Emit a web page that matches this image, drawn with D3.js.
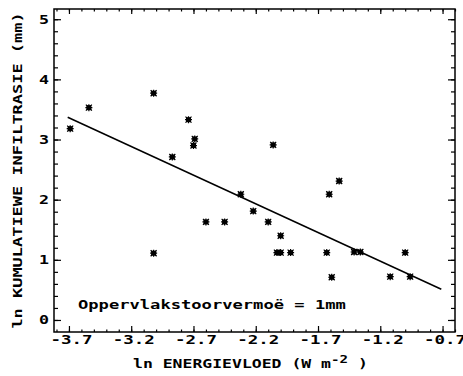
<!DOCTYPE html>
<html>
<head>
<meta charset="utf-8">
<script src="https://cdn.jsdelivr.net/npm/d3@7"></script>
<style>
  body { margin: 0; background: #fff; overflow: hidden; }
  svg { display: block; }
  text { font-family: 'DejaVu Sans Mono', monospace; font-weight: bold; fill: #000; }
</style>
</head>
<body>
<svg id="chart"></svg>
<script>
// measured points: ln energy flux vs ln cumulative infiltration
const energy = [-3.69, -3.54, -3.02, -2.74, -2.87, -2.70, -2.69, -2.06, -1.53,
  -3.02, -2.60, -2.45, -2.32, -1.61, -2.22, -2.10, -2.00, -2.03, -2.00, -1.92,
  -1.63, -1.59, -1.41, -1.36, -1.12, -1.00, -0.96];
const infiltration = [3.18, 3.53, 3.77, 3.33, 2.71, 2.90, 3.01, 2.91, 2.31,
  1.11, 1.63, 1.63, 2.09, 2.09, 1.81, 1.63, 1.40, 1.12, 1.12, 1.12,
  1.12, 0.71, 1.13, 1.13, 0.72, 1.12, 0.72];

// fitted line end points
const fitX = [-3.71, -0.71];
const fitY = [3.37, 0.51];

const xTicks = [-3.7, -3.2, -2.7, -2.2, -1.7, -1.2, -0.7];
const yTicks = [0, 1, 2, 3, 4, 5];

const yLabel = 'ln KUMULATIEWE INFILTRASIE (mm)';
const xLabel = 'ln ENERGIEVLOED (W m';
const note = 'Oppervlakstoorvermoë = 1mm';

const width = 463;
const height = 376;
const margin = { top: 9, right: 8, bottom: 44, left: 54 };
const innerWidth = width - margin.left - margin.right;
const innerHeight = height - margin.top - margin.bottom;
const charW = 10;

const svg = d3.select('#chart')
  .attr('width', width)
  .attr('height', height);

const g = svg.append('g')
  .attr('transform', `translate(${margin.left}, ${margin.top})`);

const xScale = d3.scaleLinear().domain([-3.82, -0.6]).range([0, innerWidth]);
const yScale = d3.scaleLinear().domain([-0.2, 5.17]).range([innerHeight, 0]);

const xMinor = d3.range(-38, -5).map(d => d / 10);
const yMinor = d3.range(0, 26).map(d => d / 5);

function tidy(sel) {
  sel.select('.domain').remove();
  sel.selectAll('line').attr('stroke', '#000').attr('stroke-width', 1.2);
  sel.selectAll('text').filter(function () { return !this.textContent; }).remove();
}

// stretch the mono font to the wide plotter lettering
function widen(sel, per) {
  sel.attr('font-size', 12.5)
    .attr('lengthAdjust', 'spacingAndGlyphs')
    .attr('textLength', function () { return this.textContent.length * (per || charW); });
}

// minor ticks on all four sides
g.append('g').attr('transform', `translate(0, ${innerHeight})`)
  .call(d3.axisBottom(xScale).tickValues(xMinor).tickSize(-2.5).tickFormat(''))
  .call(tidy);
g.append('g')
  .call(d3.axisTop(xScale).tickValues(xMinor).tickSize(-2.5).tickFormat(''))
  .call(tidy);
g.append('g')
  .call(d3.axisLeft(yScale).tickValues(yMinor).tickSize(-4).tickFormat(''))
  .call(tidy);
g.append('g').attr('transform', `translate(${innerWidth}, 0)`)
  .call(d3.axisRight(yScale).tickValues(yMinor).tickSize(-4).tickFormat(''))
  .call(tidy);

// major ticks
g.append('g')
  .attr('class', 'axis axis--x')
  .attr('transform', `translate(0, ${innerHeight})`)
  .call(d3.axisBottom(xScale).tickValues(xTicks).tickSize(-6).tickPadding(3)
    .tickFormat(d => d.toFixed(1)))
  .call(tidy)
  .selectAll('text')
    .attr('x', 2)
    .call(widen, 10.5);
g.append('g')
  .call(d3.axisTop(xScale).tickValues(xTicks).tickSize(-5).tickFormat(''))
  .call(tidy);

g.append('g')
  .attr('class', 'axis axis--y')
  .call(d3.axisLeft(yScale).tickValues(yTicks).tickSize(-7).tickFormat(d3.format('d')))
  .call(tidy)
  .selectAll('text')
    .attr('x', -5)
    .call(widen);
g.append('g').attr('transform', `translate(${innerWidth}, 0)`)
  .call(d3.axisRight(yScale).tickValues(yTicks).tickSize(-7).tickFormat(''))
  .call(tidy);

// frame
g.append('rect')
  .attr('width', innerWidth)
  .attr('height', innerHeight)
  .attr('fill', 'none')
  .attr('stroke', '#000')
  .attr('stroke-width', 1.5);

// regression line
g.append('line')
  .attr('x1', xScale(fitX[0]))
  .attr('y1', yScale(fitY[0]))
  .attr('x2', xScale(fitX[1]))
  .attr('y2', yScale(fitY[1]))
  .attr('stroke', '#000')
  .attr('stroke-width', 1.5);

// star markers
const data = energy.map((e, i) => ({ x: e, y: infiltration[i] }));
const marks = g.selectAll('.mark')
  .data(data)
  .enter().append('g')
    .attr('class', 'mark')
    .attr('transform', d => `translate(${xScale(d.x)}, ${yScale(d.y)})`);
marks.append('rect')
  .attr('x', -2.5).attr('y', -2.5)
  .attr('width', 5).attr('height', 5)
  .attr('fill', '#000');
marks.append('path')
  .attr('d', 'M-3.5,0H3.5M0,-3.5V3.5M-3,-3L3,3M-3,3L3,-3')
  .attr('stroke', '#000')
  .attr('stroke-width', 1.2);

// texts
g.append('text')
  .attr('x', 78 - margin.left)
  .attr('y', 309 - margin.top)
  .text(note)
  .call(widen, 10.3);

svg.append('text')
  .attr('transform', `translate(18, ${margin.top + innerHeight / 2}) rotate(-90)`)
  .attr('text-anchor', 'middle')
  .attr('dy', '0.35em')
  .text(yLabel)
  .call(widen, 10.2);

const xl = svg.append('text')
  .attr('x', 133)
  .attr('y', 368)
  .attr('font-size', 12.5);
xl.append('tspan').text(xLabel).call(widen, 9.9);
xl.append('tspan').attr('dy', -5).text('-2').call(widen, 8.5).attr('font-size', 10.5);
xl.append('tspan').attr('dy', 5).text(' )').call(widen, 9.9);
</script>
</body>
</html>
